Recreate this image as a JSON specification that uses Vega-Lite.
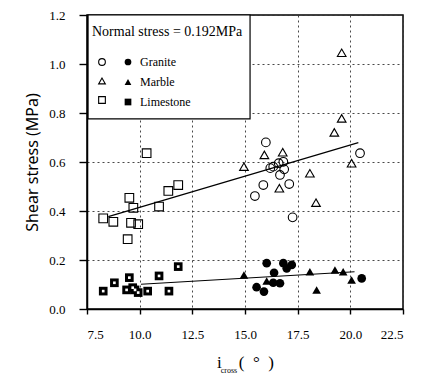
{
  "$schema": "https://vega.github.io/schema/vega-lite/v6.json",
  "width": 316,
  "height": 294,
  "autosize": {"type": "none"},
  "padding": {"left": 87, "top": 15, "right": 21, "bottom": 68},
  "background": "white",
  "title": {"text": "cross", "orient": "bottom", "anchor": "middle", "offset": -3, "dx": -16, "font": "Liberation Serif", "fontSize": 8, "fontWeight": "normal", "color": "black"},
  "config": {
    "view": {"stroke": "black", "strokeWidth": 1.5},
    "axis": {
      "domainColor": "black", "domainWidth": 1.5,
      "labelColor": "black", "labelFont": "Liberation Serif", "labelFontSize": 13,
      "titleColor": "black", "titleFontWeight": "normal",
      "gridColor": "#333333", "gridDash": [2, 3], "gridWidth": 0.9
    }
  },
  "datasets": {
    "points": [
      {"material": "Granite", "type": "peak", "angle": 15.99, "stress": 0.680},
      {"material": "Granite", "type": "peak", "angle": 16.20, "stress": 0.575},
      {"material": "Granite", "type": "peak", "angle": 16.34, "stress": 0.581},
      {"material": "Granite", "type": "peak", "angle": 16.60, "stress": 0.595},
      {"material": "Granite", "type": "peak", "angle": 16.82, "stress": 0.601},
      {"material": "Granite", "type": "peak", "angle": 16.86, "stress": 0.570},
      {"material": "Granite", "type": "peak", "angle": 16.66, "stress": 0.547},
      {"material": "Granite", "type": "peak", "angle": 15.87, "stress": 0.506},
      {"material": "Granite", "type": "peak", "angle": 17.10, "stress": 0.510},
      {"material": "Granite", "type": "peak", "angle": 15.47, "stress": 0.461},
      {"material": "Granite", "type": "peak", "angle": 17.26, "stress": 0.374},
      {"material": "Granite", "type": "peak", "angle": 20.46, "stress": 0.636},
      {"material": "Marble", "type": "peak", "angle": 15.92, "stress": 0.629},
      {"material": "Marble", "type": "peak", "angle": 16.79, "stress": 0.640},
      {"material": "Marble", "type": "peak", "angle": 14.95, "stress": 0.581},
      {"material": "Marble", "type": "peak", "angle": 16.63, "stress": 0.493},
      {"material": "Marble", "type": "peak", "angle": 18.08, "stress": 0.554},
      {"material": "Marble", "type": "peak", "angle": 18.37, "stress": 0.434},
      {"material": "Marble", "type": "peak", "angle": 19.59, "stress": 1.046},
      {"material": "Marble", "type": "peak", "angle": 19.59, "stress": 0.778},
      {"material": "Marble", "type": "peak", "angle": 19.24, "stress": 0.721},
      {"material": "Marble", "type": "peak", "angle": 20.06, "stress": 0.595},
      {"material": "Limestone", "type": "peak", "angle": 8.27, "stress": 0.370},
      {"material": "Limestone", "type": "peak", "angle": 8.75, "stress": 0.356},
      {"material": "Limestone", "type": "peak", "angle": 9.51, "stress": 0.454},
      {"material": "Limestone", "type": "peak", "angle": 9.70, "stress": 0.413},
      {"material": "Limestone", "type": "peak", "angle": 9.59, "stress": 0.352},
      {"material": "Limestone", "type": "peak", "angle": 9.93, "stress": 0.346},
      {"material": "Limestone", "type": "peak", "angle": 9.43, "stress": 0.285},
      {"material": "Limestone", "type": "peak", "angle": 10.33, "stress": 0.636},
      {"material": "Limestone", "type": "peak", "angle": 10.92, "stress": 0.418},
      {"material": "Limestone", "type": "peak", "angle": 11.36, "stress": 0.482},
      {"material": "Limestone", "type": "peak", "angle": 11.83, "stress": 0.506},
      {"material": "Granite", "type": "residual", "angle": 16.03, "stress": 0.187},
      {"material": "Granite", "type": "residual", "angle": 16.82, "stress": 0.187},
      {"material": "Granite", "type": "residual", "angle": 17.22, "stress": 0.180},
      {"material": "Granite", "type": "residual", "angle": 16.98, "stress": 0.166},
      {"material": "Granite", "type": "residual", "angle": 16.38, "stress": 0.148},
      {"material": "Granite", "type": "residual", "angle": 15.55, "stress": 0.089},
      {"material": "Granite", "type": "residual", "angle": 15.90, "stress": 0.071},
      {"material": "Granite", "type": "residual", "angle": 16.34, "stress": 0.107},
      {"material": "Granite", "type": "residual", "angle": 16.66, "stress": 0.105},
      {"material": "Granite", "type": "residual", "angle": 20.54, "stress": 0.125},
      {"material": "Marble", "type": "residual", "angle": 14.95, "stress": 0.139},
      {"material": "Marble", "type": "residual", "angle": 16.03, "stress": 0.114},
      {"material": "Marble", "type": "residual", "angle": 18.08, "stress": 0.152},
      {"material": "Marble", "type": "residual", "angle": 18.40, "stress": 0.078},
      {"material": "Marble", "type": "residual", "angle": 19.27, "stress": 0.159},
      {"material": "Marble", "type": "residual", "angle": 19.66, "stress": 0.152},
      {"material": "Marble", "type": "residual", "angle": 20.06, "stress": 0.118},
      {"material": "Limestone", "type": "residual", "angle": 8.27, "stress": 0.073},
      {"material": "Limestone", "type": "residual", "angle": 8.80, "stress": 0.107},
      {"material": "Limestone", "type": "residual", "angle": 9.51, "stress": 0.128},
      {"material": "Limestone", "type": "residual", "angle": 9.38, "stress": 0.078},
      {"material": "Limestone", "type": "residual", "angle": 9.67, "stress": 0.087},
      {"material": "Limestone", "type": "residual", "angle": 9.78, "stress": 0.078},
      {"material": "Limestone", "type": "residual", "angle": 9.93, "stress": 0.067},
      {"material": "Limestone", "type": "residual", "angle": 10.38, "stress": 0.073},
      {"material": "Limestone", "type": "residual", "angle": 10.92, "stress": 0.135},
      {"material": "Limestone", "type": "residual", "angle": 11.39, "stress": 0.073},
      {"material": "Limestone", "type": "residual", "angle": 11.83, "stress": 0.173}
    ],
    "fits": [
      {"fit": "peak", "angle": 8.51, "stress": 0.377},
      {"fit": "peak", "angle": 20.38, "stress": 0.679},
      {"fit": "residual", "angle": 10.06, "stress": 0.101},
      {"fit": "residual", "angle": 20.2, "stress": 0.152}
    ]
  },
  "layer": [
    {
      "data": {"name": "points"},
      "transform": [{"filter": "datum.type == 'peak'"}],
      "mark": {"type": "point", "filled": false, "color": "black", "strokeWidth": 1.1, "size": 75, "opacity": 1},
      "encoding": {
        "x": {
          "field": "angle", "type": "quantitative",
          "scale": {"domain": [7.5, 22.5], "nice": false, "zero": false},
          "axis": {
            "title": "i\u2003(\u2002°\u2002)",
            "titleFont": "Liberation Serif", "titleFontSize": 17, "titlePadding": 13,
            "values": [7.5, 8.75, 10, 11.25, 12.5, 13.75, 15, 16.25, 17.5, 18.75, 20, 21.25, 22.5],
            "labelExpr": "datum.value % 2.5 == 0 ? format(datum.value, '.1f') : ''",
            "ticks": true, "tickColor": "#000000", "tickWidth": 1.4, "tickOpacity": 1, "tickSize": 5,
            "labelPadding": 14, "grid": true,
            "gridOpacity": {"condition": {"test": "datum.value % 2.5 == 0", "value": 1}, "value": 0}
          }
        },
        "y": {
          "field": "stress", "type": "quantitative",
          "scale": {"domain": [0, 1.2], "nice": false},
          "axis": {
            "title": "Shear stress (MPa)",
            "titleFont": "Noto Sans", "titleFontSize": 16, "titlePadding": 8,
            "values": [0, 0.1, 0.2, 0.3, 0.4, 0.5, 0.6, 0.7, 0.8, 0.9, 1.0, 1.1, 1.2],
            "labelExpr": "abs(datum.value * 5 - round(datum.value * 5)) < 0.001 ? format(datum.value, '.1f') : ''",
            "ticks": true, "tickColor": "#000000", "tickWidth": 1.4, "tickOpacity": 1, "tickSize": 8,
            "labelPadding": 14, "grid": true,
            "gridOpacity": {"condition": {"test": "abs(datum.value * 5 - round(datum.value * 5)) < 0.001", "value": 1}, "value": 0}
          }
        },
        "shape": {
          "field": "material", "type": "nominal",
          "scale": {"domain": ["Granite", "Marble", "Limestone"], "range": ["circle", "triangle-up", "square"]},
          "legend": {
            "orient": "none", "legendX": 5, "legendY": 10,
            "title": "Normal stress = 0.192MPa",
            "titleFont": "Liberation Serif", "titleFontSize": 14, "titleFontWeight": "normal", "titleColor": "black",
            "titlePadding": 17, "padding": 0,
            "labelExpr": "''", "labelFont": "Liberation Serif", "labelFontSize": 12,
            "symbolSize": 45, "symbolStrokeColor": "black", "symbolStrokeWidth": 1.1, "symbolOffset": 4,
            "rowPadding": 7
          }
        }
      }
    },
    {
      "data": {"values": [{}]},
      "mark": {"type": "rect", "fill": "white", "stroke": "black", "strokeWidth": 1.2},
      "encoding": {
        "x": {"datum": 7.55, "type": "quantitative"},
        "x2": {"datum": 15.24},
        "y": {"datum": 1.2, "type": "quantitative"},
        "y2": {"datum": 0.776}
      }
    },
    {
      "data": {"name": "fits"},
      "mark": {"type": "line", "color": "black", "strokeWidth": 1.1},
      "encoding": {
        "x": {"field": "angle", "type": "quantitative"},
        "y": {"field": "stress", "type": "quantitative"},
        "detail": {"field": "fit"}
      }
    },
    {
      "data": {"name": "points"},
      "transform": [{"filter": "datum.type == 'residual'"}],
      "mark": {"type": "point", "filled": true, "color": "black", "size": 75, "opacity": 1},
      "encoding": {
        "x": {"field": "angle", "type": "quantitative"},
        "y": {"field": "stress", "type": "quantitative"},
        "shape": {
          "field": "material", "type": "nominal",
          "scale": {"domain": ["Granite", "Marble", "Limestone"], "range": ["circle", "triangle-up", "square"]},
          "legend": {
            "orient": "none", "legendX": 31, "legendY": 41,
            "title": null, "padding": 0,
            "labelFont": "Liberation Serif", "labelFontSize": 12, "labelColor": "black", "labelOffset": 6,
            "symbolSize": 45, "symbolFillColor": "black", "symbolStrokeColor": "black", "symbolOffset": 4,
            "rowPadding": 7
          }
        }
      }
    },
    {
      "data": {"name": "points"},
      "transform": [{"filter": "datum.type == 'residual' && datum.material == 'Limestone'"}],
      "mark": {"type": "square", "color": "white", "size": 7, "opacity": 1},
      "encoding": {
        "x": {"field": "angle", "type": "quantitative"},
        "y": {"field": "stress", "type": "quantitative"}
      }
    },
    {
      "mark": {"type": "text", "text": ["Peak", "strength"], "font": "Liberation Serif", "fontSize": 12, "align": "left", "baseline": "middle", "lineHeight": 20, "color": "black"},
      "encoding": {"x": {"datum": 20.65}, "y": {"datum": 0.71}}
    },
    {
      "mark": {"type": "text", "text": ["Residual", "strength"], "font": "Liberation Serif", "fontSize": 12, "align": "left", "baseline": "middle", "lineHeight": 20, "color": "black"},
      "encoding": {"x": {"datum": 20.36}, "y": {"datum": 0.263}}
    }
  ],
  "resolve": {"scale": {"shape": "independent"}}
}
